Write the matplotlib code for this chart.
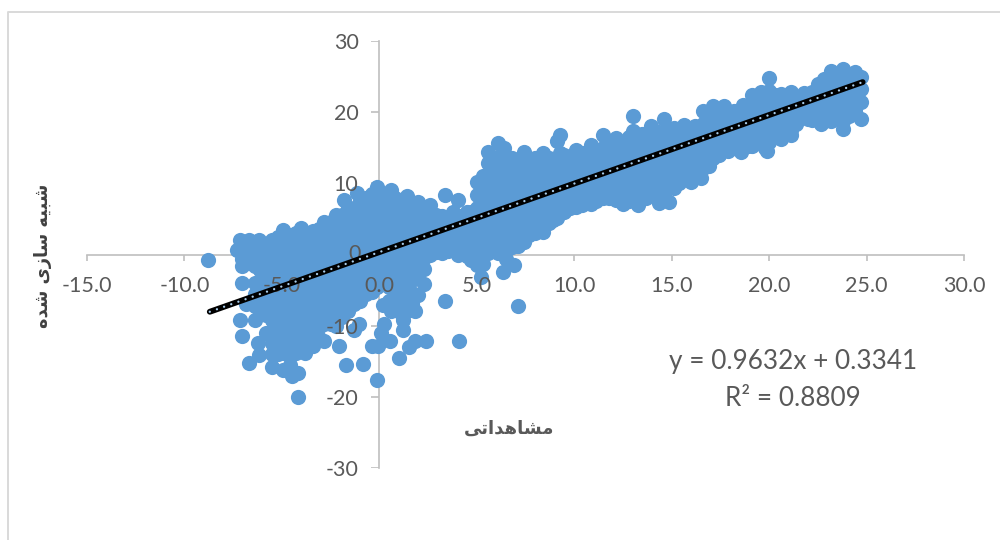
import numpy as np
import matplotlib.pyplot as plt

plt.rcParams['font.family'] = ['Lato', 'DejaVu Sans']
plt.rcParams['axes.unicode_minus'] = False

low_columns = [
    (-8.8, [-0.8]),
    (-7.3, [0.6]),
    (-7.15, [2.1, -9.2]),
    (-7.05, [1.0, -0.6, -1.6, -4.05, -11.5]),
    (-6.84, [-6.9]),
    (-6.67, [2.0, 0.4, -1.2, -15.2]),
    (-6.4, [1.8, 0.0, -1.6, -4.0, -5.5, -7.2, -9.2]),
    (-6.16, [2.0, -14.1]),
    (-6.24, [-12.5]),
    (-5.8, [1.5, 0.0, -1.5, -3.0, -4.5, -6.0, -7.5, -8.5, -11.0]),
    (-5.5, [-12.5, -14.0, -15.8]),
    (-5.2, [2.5, 1.0, -0.5, -2.0, -3.5, -5.0, -6.5, -8.0, -9.5, -11.0, -12.5, -14.0]),
    (-4.96, [3.5, -16.2]),
    (-4.6, [2.8, 1.3, -0.3, -2.0, -3.5, -5.0, -6.5, -8.0, -9.5, -11.0, -12.5, -14.0, -15.5]),
    (-4.48, [-17.1]),
    (-4.19, [-16.6, -20.0]),
    (-4.0, [3.7, 1.4, -0.4, -2.2, -4.0, -5.8, -7.6, -9.4, -11.2, -13.0]),
    (-3.8, [-13.9]),
    (-3.4, [3.3, 1.5, -0.3, -2.1, -3.9, -5.7, -7.5, -9.3, -11.1, -12.8]),
    (-2.82, [4.6, 2.8, 1.0, -0.8, -2.6, -4.4, -6.2, -8.0, -9.8, -12.1]),
    (-2.2, [5.5, 3.7, 1.9, 0.1, -1.7, -3.5, -5.3, -7.1, -8.9, -10.0]),
    (-2.05, [-12.8]),
    (-1.8, [7.6]),
    (-1.71, [-15.5]),
    (-1.6, [6.5, 4.7, 2.9, 1.1, -0.7, -2.5, -4.3, -6.1, -7.9]),
    (-1.28, [-10.6]),
    (-1.16, [8.6]),
    (-1.03, [-9.7]),
    (-1.0, [7.5, 5.7, 3.9, 2.1, 0.3, -1.5, -3.3, -5.1, -6.5]),
    (-0.86, [-15.4]),
    (-0.4, [8.5, 6.7, 4.9, 3.1, 1.3, -0.5, -2.3, -4.1, -5.2]),
    (-0.37, [-12.8]),
    (-0.14, [9.5, -17.7]),
    (-0.09, [-12.9]),
]

mid_columns = [
    (0.09, [-11.0]),
    (0.2, [8.5, 6.7, 4.9, 3.1, 1.3, -0.5, -2.3, -4.1, -7.1]),
    (0.26, [-9.7]),
    (0.55, [-12.1]),
    (0.6, [9.1, -8.0]),
    (0.8, [8.0, 6.2, 4.4, 2.6, 0.8, -1.0, -2.8, -4.6, -6.4]),
    (0.99, [-14.5]),
    (1.2, [-10.6, -9.2]),
    (1.4, [8.2, 6.4, 4.6, 2.8, 1.0, -0.8, -2.6, -4.4, -6.2, -8.0]),
    (1.54, [-13.0]),
    (1.85, [-12.2, -8.0]),
    (2.0, [7.4, 5.6, 3.8, 2.0, 0.2, -1.9, -3.2, -5.7]),
    (2.31, [-4.1]),
    (2.4, [-12.2]),
    (2.6, [7.0, 5.2, 3.4, 1.6, 0.0]),
    (3.2, [5.4, 3.6, 1.8, 0.2]),
    (3.39, [8.4, -6.6]),
    (3.8, [6.0, 4.2, 2.4, 0.6]),
    (4.02, [7.6, -0.1]),
    (4.1, [-12.1]),
    (4.5, [6.0, 4.2, 2.4, 0.6, -0.2]),
    (5.0, [10.2, 8.4, 6.6, 4.8, 3.0, 1.2, -1.5]),
    (5.2, [-3.1]),
    (5.6, [12.8, 14.4, 11.0, 9.2, 7.4, 5.6, 3.8, 2.0, 0.2]),
    (6.07, [15.6, 0.2]),
    (6.2, [13.8, 12.0, 10.2, 8.4, 6.6, 4.8, 3.0, 1.2]),
    (6.33, [-2.4]),
    (6.41, [14.9]),
    (6.8, [13.5, 11.7, 9.9, 8.1, 6.3, 4.5, 2.7, 1.0]),
    (6.93, [-1.5]),
    (7.13, [-7.2]),
    (7.44, [14.4, 12.6, 10.8, 9.0, 7.2, 5.4, 3.6, 1.8]),
    (8.0, [13.5, 11.7, 9.9, 8.1, 6.3, 4.5, 3.0]),
    (8.41, [14.2, 3.2]),
    (8.7, [13.5, 11.7, 9.9, 8.1, 6.3, 4.4]),
    (9.1, [15.9, 5.1]),
    (9.27, [16.8, 14.2, 12.4, 10.6, 8.8, 7.0]),
    (9.8, [13.5, 11.7, 9.9, 8.1, 6.6]),
    (10.1, [14.7, 6.7]),
    (10.4, [14.2, 12.4, 10.6, 8.8, 7.0]),
    (10.86, [15.4, 13.6, 11.8, 10.0, 8.2, 7.1]),
    (11.46, [16.8, 15.0, 13.2, 11.4, 9.6, 8.0]),
    (11.8, [8.0]),
    (12.14, [16.3, 14.5, 12.7, 10.9, 9.1, 7.6]),
    (12.49, [7.1]),
]

high_columns = [
    (12.8, [16.5, 14.7, 12.9, 11.1, 9.3, 7.5]),
    (13.03, [19.5, 17.3]),
    (13.25, [7.0]),
    (13.5, [17.0, 15.2, 13.4, 11.6, 9.8, 8.0]),
    (13.94, [18.0, 16.2, 14.4, 12.6, 10.8, 9.0]),
    (14.37, [7.3]),
    (14.62, [19.0, 17.2, 15.4, 13.6, 11.8, 10.0, 8.4]),
    (14.85, [7.4]),
    (15.14, [17.8, 16.0, 14.2, 12.4, 10.6, 9.3]),
    (15.65, [18.2, 16.4, 14.6, 12.8, 11.0]),
    (15.99, [10.2]),
    (16.2, [18.0, 16.2, 14.4, 12.6, 11.2]),
    (16.5, [10.7]),
    (16.59, [20.1, 18.3]),
    (17.1, [20.8, 19.0, 17.2, 15.4, 13.6]),
    (17.44, [14.0]),
    (17.7, [20.8, 19.0, 17.2, 15.4]),
    (18.2, [20.2, 18.4, 16.6, 15.0]),
    (18.56, [14.4]),
    (18.64, [21.0, 19.2, 17.4, 15.6]),
    (19.14, [22.4, 20.6, 18.8, 17.0, 15.2]),
    (19.6, [22.8, 21.0, 19.2, 17.4, 15.6]),
    (19.9, [14.6]),
    (20.0, [24.8, 23.0, 21.2, 19.4, 17.6, 15.8]),
    (20.6, [22.6, 20.8, 19.0, 17.2, 16.2]),
    (21.1, [22.9, 21.1, 19.3, 17.5, 16.8]),
    (21.4, [18.4]),
    (21.8, [22.7, 20.9, 19.5]),
    (22.2, [22.9, 21.1, 18.9]),
    (22.5, [24.0, 22.2, 20.4]),
    (22.66, [18.4]),
    (23.2, [25.8, 24.0, 22.2, 20.4, 18.8]),
    (23.77, [26.0, 24.2, 22.4, 20.6, 18.8, 17.7]),
    (24.4, [25.6, 23.8, 22.0, 20.2]),
    (24.5, [22.4]),
    (24.7, [25.0, 23.2, 21.4, 19.0]),
]

# the solid body of the cloud, between the columns above
core_columns = [
    (-6.7, [1.0, -0.6]),
    (-6.1, [1.0, -0.6, -2.2, -3.8, -5.4, -7.0, -8.3]),
    (-5.5, [2.0, 0.4, -1.2, -2.8, -4.4, -6.0, -7.6, -9.2, -10.8]),
    (-4.9, [2.2, 0.6, -1.0, -2.6, -4.2, -5.8, -7.4, -9.0, -10.6, -12.2, -13.8]),
    (-4.3, [3.0, 0.5, -1.1, -2.7, -4.3, -5.9, -7.5, -9.1, -10.7, -12.3, -13.9]),
    (-3.7, [3.0, 0.5, -1.2, -3.0, -4.8, -6.6, -8.4, -10.2, -12.0]),
    (-3.1, [3.6, 2.4, 0.6, -1.2, -3.0, -4.8, -6.6, -8.4, -10.2, -11.8]),
    (-2.5, [4.6, 2.8, 1.0, -0.8, -2.6, -4.4, -6.2, -8.0, -9.8]),
    (-1.9, [5.6, 3.8, 2.0, 0.2, -1.6, -3.4, -5.2, -7.0, -8.8]),
    (-1.3, [6.6, 4.8, 3.0, 1.2, -0.6, -2.4, -4.2, -6.0, -7.0]),
    (-0.7, [8.0, 6.2, 4.4, 2.6, 0.8, -1.0, -2.8, -4.6, -5.5]),
    (-0.1, [8.0, 6.2, 4.4, 2.6, 0.8, -1.0, -2.8, -4.6]),
    (0.5, [8.0, 6.2, 4.4, 2.6, 0.8, -1.0, -2.8, -4.6, -6.5]),
    (1.1, [7.6, 5.8, 4.0, 2.2, 0.4, -1.4, -3.2, -5.0, -6.8, -8.2]),
    (1.7, [7.2, 5.4, 3.6, 1.8, 0.0, -1.8, -3.6, -5.4, -7.0]),
    (2.3, [6.4, 4.6, 2.8, 1.0, -0.5, -2.0]),
    (2.9, [5.5, 3.7, 1.9, 0.3]),
    (3.5, [5.0, 3.2, 1.4, 0.5]),
    (4.1, [5.4, 3.6, 1.8, 0.7]),
    (4.7, [6.0, 4.2, 2.4, 0.6, -0.8]),
    (5.3, [11.0, 9.2, 7.4, 5.6, 3.8, 2.0, 0.2, -1.4]),
    (5.9, [13.4, 11.6, 9.8, 8.0, 6.2, 4.4, 2.6, 0.8]),
    (6.5, [13.6, 11.8, 10.0, 8.2, 6.4, 4.6, 2.8, 1.0, -0.6]),
    (7.1, [13.0, 11.2, 9.4, 7.6, 5.8, 4.0, 2.2, 1.2]),
    (7.7, [13.4, 11.6, 9.8, 8.0, 6.2, 4.4, 2.8]),
    (8.3, [13.0, 11.2, 9.4, 7.6, 5.8, 4.0]),
    (8.9, [13.0, 11.2, 9.4, 7.6, 5.8, 4.8]),
    (9.5, [14.0, 12.2, 10.4, 8.6, 6.8, 6.0]),
    (10.1, [13.2, 11.4, 9.6, 7.8]),
    (10.6, [13.4, 11.6, 9.8, 8.0]),
    (11.1, [14.4, 12.6, 10.8, 9.0, 7.5]),
    (11.8, [15.4, 13.6, 11.8, 10.0, 8.8]),
    (12.5, [15.6, 13.8, 12.0, 10.2, 8.4]),
    (13.2, [15.8, 14.0, 12.2, 10.4, 8.6]),
    (13.7, [16.6, 14.8, 13.0, 11.2, 9.4, 8.0]),
    (14.3, [17.2, 15.4, 13.6, 11.8, 10.0, 8.2]),
    (14.9, [16.8, 15.0, 13.2, 11.4, 9.6]),
    (15.4, [17.2, 15.4, 13.6, 11.8, 10.0]),
    (15.9, [17.4, 15.6, 13.8, 12.0, 11.0]),
    (16.5, [17.2, 15.4, 13.6, 11.8]),
    (16.9, [19.2, 17.4, 15.6, 13.8, 12.5]),
    (17.4, [20.0, 18.2, 16.4, 14.6]),
    (17.9, [20.0, 18.2, 16.4, 14.6]),
    (18.4, [19.4, 17.6, 15.8]),
    (18.9, [20.6, 18.8, 17.0, 15.2]),
    (19.4, [21.6, 19.8, 18.0, 16.2]),
    (19.8, [21.8, 20.0, 18.2, 16.4, 15.0]),
    (20.3, [22.4, 20.6, 18.8, 17.0]),
    (20.9, [22.0, 20.2, 18.4, 17.0]),
    (21.45, [22.2, 20.4, 19.0]),
    (22.0, [21.8, 20.0, 19.0]),
    (22.8, [24.6, 22.8, 21.0, 19.4]),
    (23.5, [25.0, 23.2, 21.4, 19.6]),
    (24.1, [24.8, 23.0, 21.2, 19.4]),
]

# Excel trendline as printed on the chart
slope = 0.9632
intercept = 0.3341
trend_range = [-8.7, 24.8]

x_ticks = [-15, -10, -5, 0, 5, 10, 15, 20, 25, 30]
y_ticks = [-30, -20, -10, 10, 20, 30]

# Persian labels in shaped presentation forms, visual order (matplotlib does no shaping)
x_title = '\ufbfd\ufe97\ufe8d\ufeaa\ufeeb\ufe8e\ufeb8\ufee3'
y_title = '\ufee9\ufeaa\ufeb7 \ufbfc\ufeaf\ufe8e\ufeb3 \ufeea\ufbff\ufe92\ufeb7'

obs = []
sim = []
for column in low_columns + mid_columns + high_columns + core_columns:
    for value in column[1]:
        obs.append(column[0])
        sim.append(value)

grey = '#595959'
axis_grey = '#BFBFBF'

fig = plt.figure(figsize=(10, 5.4), dpi=100)
ax = fig.add_axes([0.087, 1 - 468 / 540, 0.877, 427 / 540])
ax.set_xlim(-15, 30)
ax.set_ylim(-30, 30)

ax.scatter(obs, sim, s=120, color='#5B9BD5', linewidths=0, zorder=1)

trend_x = np.array(trend_range)
trend_y = slope * trend_x + intercept
ax.plot(trend_x, trend_y, color='black', lw=4.2, solid_capstyle='round', zorder=3)
ax.plot(trend_x, trend_y, color='#A9CDEB', lw=1.7, dashes=(0.01, 3.2),
        dash_capstyle='round', zorder=4)

for name in ['top', 'right']:
    ax.spines[name].set_visible(False)
for name in ['left', 'bottom']:
    ax.spines[name].set_color(axis_grey)
    ax.spines[name].set_linewidth(1.2)
    ax.spines[name].set_zorder(0.5)
ax.spines['left'].set_position('zero')
ax.spines['bottom'].set_position('zero')

# tick marks stay under the points, tick labels go on top of them
ax.vlines(x_ticks, -0.9, 0, color=axis_grey, lw=1.2, zorder=0.5, clip_on=False)
ax.hlines(y_ticks, -0.42, 0, color=axis_grey, lw=1.2, zorder=0.5)

ax.set_xticks(x_ticks)
ax.set_xticklabels(['%.1f' % t for t in x_ticks])
ax.set_yticks(y_ticks)
ax.tick_params(length=0, labelsize=15.5, labelcolor=grey)
ax.tick_params(axis='x', pad=15.5)
ax.tick_params(axis='y', pad=15)
ax.xaxis.set_zorder(1.5)
ax.yaxis.set_zorder(1.5)
ax.patch.set_visible(False)

# the lone 0 label of the vertical axis sits beside the origin
ax.text(-0.95, 0, '0', ha='right', va='center', fontsize=15.5, color=grey, zorder=1.5)

fig.text(0.793, 1 - 362 / 540, 'y = 0.9632x + 0.3341', ha='center', va='center',
         fontsize=18.8, color=grey)
fig.text(0.793, 1 - 398 / 540, 'R\u00b2 = 0.8809', ha='center', va='center',
         fontsize=18.8, color=grey)
fig.text(0.509, 1 - 429 / 540, x_title, ha='center', va='center', fontsize=13,
         fontweight='bold', color=grey, family='DejaVu Sans')
fig.text(0.043, 1 - 256 / 540, y_title, ha='center', va='center', rotation=90,
         fontsize=12.8, fontweight='bold', color='#404040', family='DejaVu Sans')

# chart frame, only its left and top edges are inside the crop
fig.add_artist(plt.Line2D([0.008, 0.008, 1.0], [0, 1 - 11.5 / 540, 1 - 11.5 / 540],
                          color='#D9D9D9', lw=1.4))

fig.savefig('out.png', dpi=100)
